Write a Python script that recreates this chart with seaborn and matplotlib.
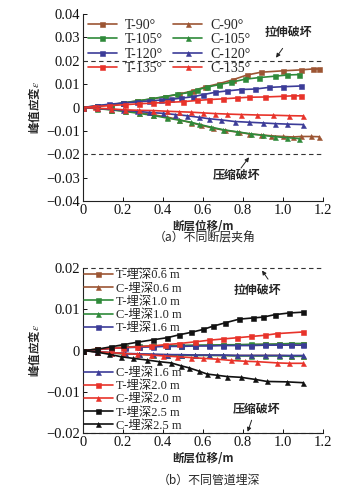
import numpy as np
import pandas as pd
import matplotlib
matplotlib.use("Agg")
import matplotlib.pyplot as plt
import seaborn as sns

sns.set_theme(style="ticks")
plt.rcParams['font.family'] = ['Liberation Serif', 'Noto Sans CJK SC']
plt.rcParams['axes.unicode_minus'] = True
plt.rcParams['mathtext.fontset'] = 'stix'

# ---------------- data: panel (a) ----------------
t90_x = [0, 0.07, 0.14, 0.2, 0.27, 0.34, 0.41, 0.48, 0.55, 0.61, 0.68, 0.75, 0.82, 0.89, 1.0, 1.09, 1.15, 1.18]
t90_y = [0, 0.0006, 0.0011, 0.0019, 0.0028, 0.0036, 0.0046, 0.0057, 0.0072, 0.0088, 0.0102, 0.0119, 0.0139, 0.0151, 0.0157, 0.0161, 0.0165, 0.0165]
t105_x = [0, 0.07, 0.14, 0.2, 0.27, 0.34, 0.41, 0.47, 0.53, 0.57, 0.62, 0.68, 0.74, 0.81, 0.88, 0.96, 1.02, 1.08]
t105_y = [0, 0.0007, 0.0012, 0.002, 0.0028, 0.0037, 0.0047, 0.0056, 0.0064, 0.0075, 0.0087, 0.0098, 0.0108, 0.0121, 0.0128, 0.0134, 0.0139, 0.0141]
t120_x = [0, 0.07, 0.13, 0.2, 0.27, 0.33, 0.39, 0.44, 0.49, 0.55, 0.6, 0.66, 0.72, 0.79, 0.86, 0.93, 1.0, 1.09]
t120_y = [0, 0.0008, 0.0014, 0.0019, 0.0024, 0.0028, 0.0032, 0.0035, 0.004, 0.0046, 0.0055, 0.0065, 0.0071, 0.0077, 0.0079, 0.0086, 0.0089, 0.0092]
t135_x = [0, 0.06, 0.13, 0.21, 0.28, 0.35, 0.42, 0.5, 0.57, 0.63, 0.7, 0.77, 0.83, 0.91, 1.0, 1.05, 1.09]
t135_y = [0, 0.0004, 0.0008, 0.0012, 0.0016, 0.0019, 0.0022, 0.0025, 0.003, 0.0034, 0.0037, 0.0041, 0.0044, 0.0045, 0.0048, 0.005, 0.005]
c90_x = [0, 0.07, 0.14, 0.21, 0.28, 0.35, 0.42, 0.48, 0.54, 0.59, 0.65, 0.71, 0.78, 0.83, 0.89, 0.94, 1.0, 1.05, 1.09, 1.14, 1.18]
c90_y = [0, -0.0004, -0.0009, -0.0015, -0.0022, -0.0031, -0.0041, -0.0052, -0.0065, -0.0076, -0.0088, -0.0098, -0.0106, -0.0113, -0.0117, -0.0121, -0.0124, -0.0126, -0.0124, -0.0124, -0.0125]
c105_x = [0, 0.07, 0.14, 0.21, 0.28, 0.35, 0.42, 0.48, 0.54, 0.58, 0.64, 0.7, 0.77, 0.84, 0.9, 0.96, 1.02, 1.08]
c105_y = [0, -0.0005, -0.001, -0.0017, -0.0025, -0.0034, -0.0045, -0.0054, -0.0063, -0.0072, -0.0084, -0.0095, -0.0104, -0.0113, -0.0119, -0.0125, -0.0129, -0.0133]
c120_x = [0, 0.07, 0.14, 0.2, 0.27, 0.33, 0.4, 0.46, 0.52, 0.58, 0.63, 0.69, 0.76, 0.83, 0.9, 0.96, 1.02, 1.1]
c120_y = [0, -0.0004, -0.0008, -0.0012, -0.0016, -0.0021, -0.0025, -0.003, -0.0035, -0.0042, -0.0048, -0.0053, -0.006, -0.0063, -0.0066, -0.0069, -0.0071, -0.0073]
c135_x = [0, 0.07, 0.14, 0.21, 0.28, 0.35, 0.42, 0.48, 0.54, 0.6, 0.66, 0.72, 0.79, 0.87, 0.95, 1.03, 1.1]
c135_y = [0, -0.0003, -0.0006, -0.001, -0.0012, -0.0013, -0.0016, -0.0018, -0.002, -0.0023, -0.0026, -0.0028, -0.003, -0.0032, -0.0033, -0.0035, -0.0036]

# ---------------- data: panel (b) ----------------
b_x = [0, 0.07, 0.14, 0.21, 0.28, 0.35, 0.42, 0.49, 0.56, 0.63, 0.7, 0.77, 0.84, 0.91, 0.98, 1.04, 1.1]
t06_y = [0, 0.0003, 0.0006, 0.0008, 0.0009, 0.001, 0.0011, 0.0012, 0.0012, 0.0013, 0.0013, 0.0014, 0.0014, 0.0015, 0.0015, 0.0016, 0.0016]
c06_y = [0, -0.0003, -0.0006, -0.0008, -0.0009, -0.001, -0.001, -0.0011, -0.0011, -0.0011, -0.0012, -0.0012, -0.0012, -0.0012, -0.0012, -0.0013, -0.0013]
t10_y = [0, 0.0003, 0.0006, 0.0008, 0.001, 0.0011, 0.0012, 0.0012, 0.0013, 0.0013, 0.0014, 0.0014, 0.0015, 0.0015, 0.0016, 0.0017, 0.0017]
c10_y = [0, -0.0003, -0.0006, -0.0008, -0.0009, -0.001, -0.0011, -0.0011, -0.0012, -0.0012, -0.0012, -0.0013, -0.0013, -0.0013, -0.0013, -0.0014, -0.0014]
t16_y = [0, 0.0002, 0.0005, 0.0007, 0.0008, 0.0009, 0.001, 0.001, 0.0011, 0.0011, 0.0012, 0.0012, 0.0012, 0.0013, 0.0013, 0.0013, 0.0013]
c16_y = [0, -0.0003, -0.0005, -0.0007, -0.0008, -0.0009, -0.001, -0.001, -0.0011, -0.0011, -0.0011, -0.0012, -0.0012, -0.0012, -0.0012, -0.0012, -0.0012]
t20_x = [0, 0.07, 0.14, 0.2, 0.27, 0.34, 0.41, 0.48, 0.56, 0.63, 0.7, 0.77, 0.84, 0.91, 0.97, 1.1]
t20_y = [0, 0.0003, 0.0005, 0.0007, 0.0009, 0.0011, 0.0014, 0.0017, 0.0021, 0.0025, 0.0028, 0.0031, 0.0034, 0.0037, 0.0041, 0.0045]
c20_x = [0, 0.07, 0.14, 0.2, 0.27, 0.34, 0.4, 0.47, 0.54, 0.6, 0.67, 0.74, 0.81, 0.87, 0.97, 1.03, 1.1]
c20_y = [0, -0.0003, -0.0005, -0.0007, -0.0009, -0.0011, -0.0013, -0.0015, -0.0017, -0.0019, -0.0021, -0.0024, -0.0026, -0.0027, -0.003, -0.0031, -0.0031]
t25_x = [0, 0.07, 0.14, 0.2, 0.27, 0.35, 0.42, 0.48, 0.54, 0.6, 0.65, 0.71, 0.78, 0.85, 0.9, 0.96, 1.03, 1.1]
t25_y = [0, 0.0003, 0.0009, 0.0014, 0.002, 0.0026, 0.0031, 0.0038, 0.0044, 0.0051, 0.0059, 0.0067, 0.0076, 0.0079, 0.0081, 0.0087, 0.0091, 0.0093]
c25_x = [0, 0.07, 0.13, 0.19, 0.25, 0.32, 0.38, 0.44, 0.49, 0.53, 0.58, 0.62, 0.67, 0.72, 0.79, 0.86, 0.92, 1.02, 1.1]
c25_y = [0, -0.0004, -0.0009, -0.0015, -0.0019, -0.0023, -0.0027, -0.003, -0.0037, -0.0042, -0.005, -0.0057, -0.006, -0.0063, -0.0065, -0.007, -0.0075, -0.0076, -0.0078]

BROWN = '#9c5533'
GREEN = '#2f8a3a'
BLUE = '#3c3c98'
RED = '#e8332a'
BLACK = '#111111'

fig = plt.figure(figsize=(3.63, 4.90), dpi=100)
axa = fig.add_axes([0.2287, 0.5898, 0.6612, 0.3816])
axb = fig.add_axes([0.2287, 0.1163, 0.6612, 0.3367])

LEGFS = 10
CJKFS = 8.6
mk = 3.6
lw = 1.2
CJK = ['Noto Sans CJK SC', 'Liberation Serif']

def draw(ax, x, y, color, marker, label):
    sns.lineplot(x=x, y=y, ax=ax, color=color, marker=marker, markersize=mk,
                 markeredgewidth=0.4, markeredgecolor=color, linewidth=lw,
                 label=label, estimator=None, sort=False)

def note(ax, text, txy, tail, head):
    ax.text(txy[0], txy[1], text, ha='center', va='center', fontsize=CJKFS,
            fontweight='bold', family=CJK)
    ax.annotate('', xy=head, xytext=tail,
                arrowprops=dict(arrowstyle='-|>', color='#222222', lw=0.7,
                                mutation_scale=6, shrinkA=0, shrinkB=0))

# panel a
series_a = [
    (t90_x, t90_y, BROWN, 's', 'T-90°'),
    (t105_x, t105_y, GREEN, 's', 'T-105°'),
    (t120_x, t120_y, BLUE, 's', 'T-120°'),
    (t135_x, t135_y, RED, 's', 'T-135°'),
    (c90_x, c90_y, BROWN, '^', 'C-90°'),
    (c105_x, c105_y, GREEN, '^', 'C-105°'),
    (c120_x, c120_y, BLUE, '^', 'C-120°'),
    (c135_x, c135_y, RED, '^', 'C-135°'),
]
for s in series_a:
    draw(axa, *s)

axa.axhline(0.02, color='#333333', lw=0.8, ls=(0, (4, 3)))
axa.axhline(-0.02, color='#333333', lw=0.8, ls=(0, (4, 3)))
axa.set_xlim(0, 1.2)
axa.set_ylim(-0.04, 0.04)
axa.set_yticks([0.04, 0.03, 0.02, 0.01, 0, -0.01, -0.02, -0.03, -0.04])
axa.set_yticklabels(['0.04', '0.03', '0.02', '0.01', '0', '\u22120.01', '\u22120.02', '\u22120.03', '\u22120.04'])
h, l = axa.get_legend_handles_labels()
axa.legend(h, l, ncol=2, loc='upper left', frameon=False,
           prop={'family': ['Liberation Serif'], 'size': LEGFS},
           handlelength=2.1, handletextpad=0.55, columnspacing=0.75,
           labelspacing=0.1, borderaxespad=0.0, borderpad=0.35,
           bbox_to_anchor=(0.0, 1.0))
note(axa, '拉伸破坏', (1.025, 0.0322), (0.998, 0.0253), (0.965, 0.0213))
note(axa, '压缩破坏', (0.77, -0.0293), (0.79, -0.0259), (0.83, -0.0213))

# panel b
series_b = [
    (b_x, t06_y, BROWN, 's', 'T-埋深0.6 m'),
    (b_x, c06_y, BROWN, '^', 'C-埋深0.6 m'),
    (b_x, t10_y, GREEN, 's', 'T-埋深1.0 m'),
    (b_x, c10_y, GREEN, '^', 'C-埋深1.0 m'),
    (b_x, t16_y, BLUE, 's', 'T-埋深1.6 m'),
    (b_x, c16_y, BLUE, '^', 'C-埋深1.6 m'),
    (t20_x, t20_y, RED, 's', 'T-埋深2.0 m'),
    (c20_x, c20_y, RED, '^', 'C-埋深2.0 m'),
    (t25_x, t25_y, BLACK, 's', 'T-埋深2.5 m'),
    (c25_x, c25_y, BLACK, '^', 'C-埋深2.5 m'),
]
for s in series_b:
    draw(axb, *s)

axb.axhline(0.02, color='#333333', lw=0.8, ls=(0, (4, 3)), clip_on=False)
axb.axhline(-0.02, color='#333333', lw=0.8, ls=(0, (4, 3)), clip_on=False)
axb.set_xlim(0, 1.2)
axb.set_ylim(-0.02, 0.02)
axb.set_yticks([0.02, 0.01, 0, -0.01, -0.02])
axb.set_yticklabels(['0.02', '0.01', '0', '\u22120.01', '\u22120.02'])
hb, lb = axb.get_legend_handles_labels()
bprop = {'family': ['Liberation Serif', 'Noto Sans CJK SC'], 'size': 8.9}
leg1 = axb.legend(hb[:5], lb[:5], loc='upper left', frameon=False, prop=bprop,
                  handlelength=2.3, handletextpad=0.3, labelspacing=0.1,
                  borderaxespad=0.0, borderpad=0.1, bbox_to_anchor=(0.0, 1.0))
axb.add_artist(leg1)
axb.legend(hb[5:], lb[5:], loc='lower left', frameon=False, prop=bprop,
           handlelength=2.3, handletextpad=0.3, labelspacing=0.1,
           borderaxespad=0.0, borderpad=0.1, bbox_to_anchor=(0.0, 0.0))
note(axb, '拉伸破坏', (0.87, 0.0145), (0.925, 0.0173), (0.895, 0.0194))
note(axb, '压缩破坏', (0.868, -0.0144), (0.843, -0.0169), (0.823, -0.0197))

for ax in (axa, axb):
    sns.despine(ax=ax)
    ax.spines['left'].set_linewidth(0.8)
    ax.spines['bottom'].set_linewidth(0.8)
    ax.spines['left'].set_color('#222222')
    ax.spines['bottom'].set_color('#222222')
    ax.set_xticks([0, 0.2, 0.4, 0.6, 0.8, 1.0, 1.2])
    ax.set_xticklabels(['0', '0.2', '0.4', '0.6', '0.8', '1.0', '1.2'])
    ax.tick_params(direction='in', length=3, width=0.7, labelsize=10.5,
                   colors='#111111', pad=2)
    ax.set_xlabel('断层位移/m', fontsize=8.3, fontweight='bold',
                  family=CJK, labelpad=2)
    ax.set_ylabel('峰值应变$\\varepsilon$', fontsize=8.3, fontweight='bold',
                  family=CJK)
    ax.yaxis.set_label_coords(-0.17, 0.5)

fig.text(0.565, 1 - 238 / 490, '（a）不同断层夹角', ha='center', va='center',
         fontsize=8.6, family=CJK)
fig.text(0.575, 1 - 480 / 490, '（b）不同管道埋深', ha='center', va='center',
         fontsize=8.6, family=CJK)

fig.savefig('out.png', dpi=100)
